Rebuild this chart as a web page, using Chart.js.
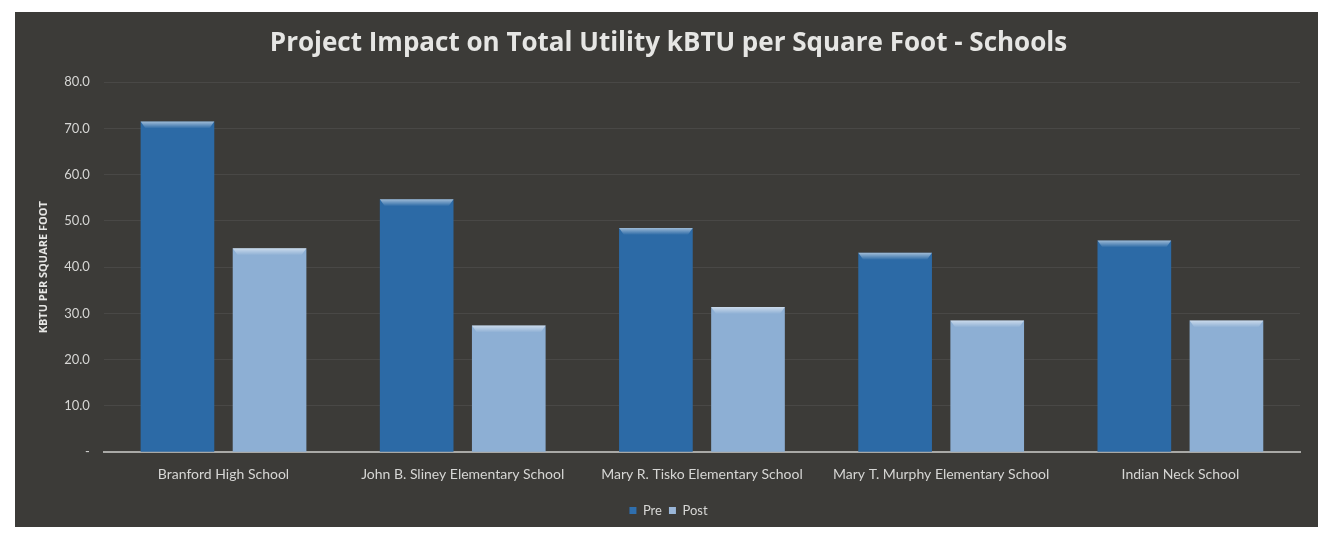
<!DOCTYPE html>
<html>
<head>
<meta charset="utf-8">
<script src="https://cdn.jsdelivr.net/npm/chart.js@4"></script>
<style>
  html, body { margin: 0; padding: 0; background: #ffffff; width: 1329px; height: 534px; overflow: hidden; }
  #panel { position: absolute; left: 15px; top: 12px; width: 1303px; height: 515px; background: #3c3b38; }
  canvas { display: block; }
</style>
</head>
<body>
<div id="panel"><canvas id="c" width="1303" height="515"></canvas></div>
<script>
const categories = [
  "Branford High School",
  "John B. Sliney Elementary School",
  "Mary R. Tisko Elementary School",
  "Mary T. Murphy Elementary School",
  "Indian Neck School"
];
const preValues = [71.5, 54.7, 48.5, 43.1, 45.8];
const postValues = [44.1, 27.4, 31.4, 28.5, 28.5];
const seriesNames = ["Pre", "Post"];
const yTickValues = [0, 10, 20, 30, 40, 50, 60, 70, 80];

const bevel = {
  id: 'bevel',
  afterDatasetsDraw(chart) {
    const ctx = chart.ctx;
    chart.data.datasets.forEach((ds, i) => {
      const meta = chart.getDatasetMeta(i);
      meta.data.forEach(bar => {
        if (!Number.isFinite(bar.x) || !Number.isFinite(bar.y)) return;
        const left = bar.x - bar.width / 2, right = bar.x + bar.width / 2;
        const top = bar.y;
        const g = ctx.createLinearGradient(0, top, 0, top + 7);
        g.addColorStop(0, 'rgba(255,255,255,0.55)');
        g.addColorStop(1, 'rgba(255,255,255,0)');
        ctx.save();
        ctx.fillStyle = g;
        ctx.beginPath();
        ctx.moveTo(left, top);
        ctx.lineTo(right, top);
        ctx.lineTo(right - 5, top + 7);
        ctx.lineTo(left + 5, top + 7);
        ctx.closePath();
        ctx.fill();
        ctx.restore();
      });
    });
  }
};

function barFill(base, light) {
  return function(context) {
    const chart = context.chart;
    const el = context.element;
    if (!el || !chart.chartArea || !Number.isFinite(el.x) || !Number.isFinite(el.width) || el.width <= 0) return base;
    const w = el.width;
    const g = chart.ctx.createLinearGradient(el.x - w / 2, 0, el.x + w / 2, 0);
    g.addColorStop(0, base);
    g.addColorStop(0.5, light);
    g.addColorStop(1, base);
    return g;
  };
}

new Chart(document.getElementById('c'), {
  type: 'bar',
  data: {
    labels: categories,
    datasets: [
      { label: seriesNames[0], data: preValues, backgroundColor: barFill('#2c6aa6', '#3377b6'), borderWidth: 0 },
      { label: seriesNames[1], data: postValues, backgroundColor: barFill('#8dafd4', '#a3bfe0'), borderWidth: 0 }
    ]
  },
  options: {
    responsive: false,
    animation: false,
    layout: { padding: { left: 22, right: 18, top: 0, bottom: 0 } },
    datasets: { bar: { categoryPercentage: 0.77, barPercentage: 0.8 } },
    plugins: {
      title: {
        display: true,
        text: 'Project Impact on Total Utility kBTU per Square Foot - Schools',
        color: '#e6e6e4',
        font: { family: '"Open Sans"', size: 26, weight: 'bold' },
        padding: { top: 16, bottom: 23 }
      },
      legend: {
        position: 'bottom',
        labels: {
          color: '#d8d8d6',
          font: { family: 'Lato', size: 13 },
          boxWidth: 7, boxHeight: 7,
          padding: 7,
          generateLabels(chart) {
            return chart.data.datasets.map((ds, i) => ({
              text: ds.label,
              fillStyle: i === 0 ? '#2f6fae' : '#9ab6d8',
              strokeStyle: 'rgba(0,0,0,0)',
              lineWidth: 0,
              fontColor: '#d8d8d6',
              datasetIndex: i
            }));
          }
        }
      },
      tooltip: { enabled: false }
    },
    scales: {
      x: {
        grid: { display: false, drawTicks: false },
        border: { display: true, color: '#a9a9a6', width: 2 },
        ticks: { color: '#d6d6d4', font: { family: 'Lato', size: 14 }, padding: 14, maxRotation: 0, autoSkip: false }
      },
      y: {
        min: 0, max: 80,
        afterBuildTicks(scale) { scale.ticks = yTickValues.map(v => ({ value: v })); },
        grid: { color: 'rgba(255,255,255,0.07)', drawTicks: false },
        border: { display: false },
        ticks: {
          color: '#d6d6d4',
          font: { family: 'Lato', size: 13 },
          padding: 14,
          callback: v => v === 0 ? '-' : Number(v).toFixed(1)
        },
        title: {
          display: true,
          text: 'KBTU PER SQUARE FOOT',
          color: '#e6e6e4',
          font: { family: '"Open Sans"', size: 11, weight: 'bold' },
          padding: { top: 0, bottom: 0 }
        }
      }
    }
  },
  plugins: [bevel]
});
</script>
</body>
</html>
